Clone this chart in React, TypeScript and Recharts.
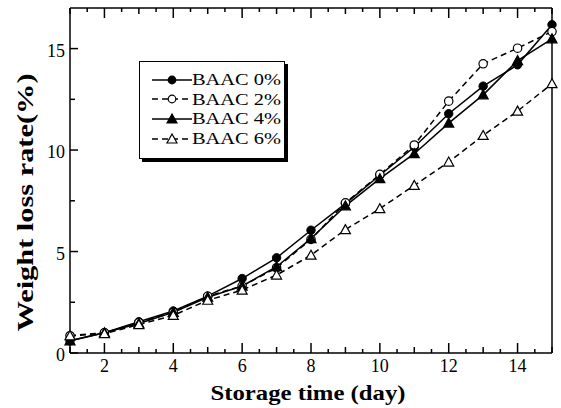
import React from "react";
import { LineChart, Line, XAxis, YAxis, Legend } from "recharts";

const days = [1, 2, 3, 4, 5, 6, 7, 8, 9, 10, 11, 12, 13, 14, 15];
const baac0 = [0.6, 1.0, 1.54, 2.07, 2.8, 3.67, 4.69, 6.05, 7.36, 8.76, 10.15, 11.79, 13.15, 14.2, 16.18];
const baac2 = [0.85, 1.0, 1.5, 2.0, 2.8, 3.3, 4.2, 5.6, 7.4, 8.8, 10.25, 12.41, 14.25, 15.02, 15.84];
const baac4 = [0.6, 1.0, 1.45, 2.0, 2.75, 3.3, 4.25, 5.64, 7.25, 8.59, 9.82, 11.33, 12.72, 14.41, 15.48];
const baac6 = [0.85, 0.95, 1.4, 1.85, 2.6, 3.1, 3.84, 4.82, 6.08, 7.11, 8.26, 9.41, 10.72, 11.92, 13.27];

const seriesNames = ["BAAC 0%", "BAAC 2%", "BAAC 4%", "BAAC 6%"];

const xTicks = [1, 1.5, 2, 2.5, 3, 3.5, 4, 4.5, 5, 5.5, 6, 6.5, 7, 7.5, 8, 8.5, 9, 9.5, 10, 10.5, 11, 11.5, 12, 12.5, 13, 13.5, 14, 14.5, 15];
const xLabels = [2, 4, 6, 8, 10, 12, 14];
const yTicks = [0, 2.5, 5, 7.5, 10, 12.5, 15];
const yLabels = [0, 5, 10, 15];

const data = days.map((d, i) => ({
  day: d,
  b0: baac0[i],
  b2: baac2[i],
  b4: baac4[i],
  b6: baac6[i],
}));

const FONT = "'Liberation Serif', 'Times New Roman', serif";

const tickLen = (v: number) => {
  if (xLabels.includes(v)) return 10;
  if (Number.isInteger(v)) return 6;
  return 4;
};

const BottomTick = (props: any) => {
  const { x, y, payload } = props;
  const v = payload.value;
  return (
    <g>
      <line x1={x} y1={y} x2={x} y2={y - tickLen(v)} stroke="#000" strokeWidth={1.5} />
      {xLabels.includes(v) && (
        <text x={x} y={y + 19} textAnchor="middle" fontFamily={FONT} fontSize={18} fill="#000">
          {v}
        </text>
      )}
    </g>
  );
};

const TopTick = (props: any) => {
  const { x, y, payload } = props;
  return <line x1={x} y1={y} x2={x} y2={y + tickLen(payload.value)} stroke="#000" strokeWidth={1.5} />;
};

const LeftTick = (props: any) => {
  const { x, y, payload } = props;
  const v = payload.value;
  const len = yLabels.includes(v) ? 8 : 5;
  return (
    <g>
      <line x1={x} y1={y} x2={x + len} y2={y} stroke="#000" strokeWidth={1.5} />
      {yLabels.includes(v) && (
        <text x={x - 5} y={y + 8} textAnchor="end" fontFamily={FONT} fontSize={18} fill="#000">
          {v}
        </text>
      )}
    </g>
  );
};

const RightTick = (props: any) => {
  const { x, y, payload } = props;
  const len = yLabels.includes(payload.value) ? 8 : 5;
  return <line x1={x} y1={y} x2={x - len} y2={y} stroke="#000" strokeWidth={1.5} />;
};

const triangle = (filled: boolean) => (props: any) => {
  const { cx, cy, index } = props;
  const s = 5;
  return (
    <polygon
      key={`t-${filled}-${index}`}
      points={`${cx},${cy - s} ${cx - s},${cy + s * 0.8} ${cx + s},${cy + s * 0.8}`}
      fill={filled ? "#000" : "#fff"}
      stroke="#000"
      strokeWidth={1.2}
    />
  );
};

const LegendMarker = ({ i }: { i: number }) => {
  const dashed = i % 2 === 1;
  const filled = i % 2 === 0;
  return (
    <svg width={40} height={14} style={{ display: "block" }}>
      <line x1={0} y1={7} x2={40} y2={7} stroke="#000" strokeWidth={1.4} strokeDasharray={dashed ? "6 4" : undefined} />
      {i < 2 ? (
        <circle cx={20} cy={7} r={3.8} fill={filled ? "#000" : "#fff"} stroke="#000" strokeWidth={1.2} />
      ) : (
        <polygon points="20,2 15,11 25,11" fill={filled ? "#000" : "#fff"} stroke="#000" strokeWidth={1.2} />
      )}
    </svg>
  );
};

const LegendBox = () => (
  <div
    style={{
      border: "1.5px solid #000",
      boxShadow: "3px 3px 0 #000",
      background: "#fff",
      padding: "8px 4px 10px 12px",
      width: 128,
      fontFamily: FONT,
      fontSize: 17,
      lineHeight: "19.6px",
      color: "#000",
    }}
  >
    {seriesNames.map((n, i) => (
      <div key={n} style={{ display: "flex", alignItems: "center", height: 19.6 }}>
        <LegendMarker i={i} />
        <span style={{ display: "inline-block", transform: "scaleX(1.2)", transformOrigin: "left center", whiteSpace: "nowrap" }}>
          {n}
        </span>
      </div>
    ))}
  </div>
);

const YLabel = (props: any) => {
  const { viewBox } = props;
  const cx = viewBox.x + 25;
  const cy = viewBox.y + viewBox.height / 2 + 22;
  return (
    <text
      x={cx}
      y={cy}
      transform={`rotate(-90, ${cx}, ${cy})`}
      textAnchor="middle"
      dominantBaseline="central"
      fontFamily={FONT}
      fontWeight="bold"
      fontSize={23}
      textLength={258}
      lengthAdjust="spacingAndGlyphs"
      fill="#000"
    >
      Weight loss rate(%)
    </text>
  );
};

const XLabel = (props: any) => {
  const { viewBox } = props;
  return (
    <text
      x={viewBox.x + viewBox.width / 2 - 3}
      y={viewBox.y + 47}
      textAnchor="middle"
      fontFamily={FONT}
      fontWeight="bold"
      fontSize={22}
      textLength={195}
      lengthAdjust="spacingAndGlyphs"
      fill="#000"
    >
      Storage time (day)
    </text>
  );
};

export default function App() {
  return (
    <div style={{ position: "absolute", left: 0, top: 0, background: "#fff" }}>
      <LineChart width={561} height={408} data={data} margin={{ top: 7, right: 8, left: 0, bottom: 0 }}>
        <XAxis
          dataKey="day"
          type="number"
          domain={[1, 15]}
          ticks={xTicks}
          interval={0}
          height={55}
          tickSize={0}
          tickMargin={0}
          tickLine={false}
          axisLine={{ stroke: "#000", strokeWidth: 1.5 }}
          tick={BottomTick}
          label={XLabel}
        />
        <XAxis
          xAxisId="top"
          orientation="top"
          dataKey="day"
          type="number"
          domain={[1, 15]}
          ticks={xTicks}
          interval={0}
          height={1}
          tickSize={0}
          tickMargin={0}
          tickLine={false}
          axisLine={{ stroke: "#000", strokeWidth: 1.5 }}
          tick={TopTick}
        />
        <YAxis
          type="number"
          domain={[0, 17]}
          ticks={yTicks}
          interval={0}
          width={70}
          tickSize={0}
          tickMargin={0}
          tickLine={false}
          axisLine={{ stroke: "#000", strokeWidth: 1.5 }}
          tick={LeftTick}
          label={YLabel}
        />
        <YAxis
          yAxisId="right"
          orientation="right"
          type="number"
          domain={[0, 17]}
          ticks={yTicks}
          interval={0}
          width={1}
          tickSize={0}
          tickMargin={0}
          tickLine={false}
          axisLine={{ stroke: "#000", strokeWidth: 1.5 }}
          tick={RightTick}
        />
        <Legend
          layout="vertical"
          align="center"
          verticalAlign="middle"
          content={<LegendBox />}
          wrapperStyle={{ left: 139, top: 61, width: "auto" }}
        />
        <Line
          dataKey="b0"
          stroke="#000"
          strokeWidth={1.5}
          dot={{ r: 4.2, fill: "#000", stroke: "#000", strokeWidth: 1 }}
          isAnimationActive={false}
        />
        <Line
          dataKey="b2"
          stroke="#000"
          strokeWidth={1.5}
          strokeDasharray="6 4"
          dot={{ r: 4.2, fill: "#fff", stroke: "#000", strokeWidth: 1.2, strokeDasharray: "" }}
          isAnimationActive={false}
        />
        <Line
          dataKey="b4"
          stroke="#000"
          strokeWidth={1.5}
          dot={triangle(true)}
          isAnimationActive={false}
        />
        <Line
          dataKey="b6"
          stroke="#000"
          strokeWidth={1.5}
          strokeDasharray="6 4"
          dot={triangle(false)}
          isAnimationActive={false}
        />
      </LineChart>
    </div>
  );
}
